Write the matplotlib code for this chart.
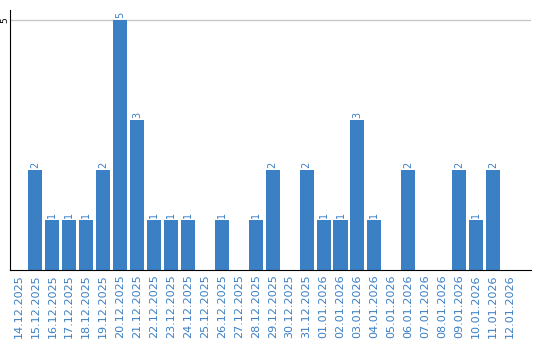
import matplotlib
matplotlib.use('Agg')
import matplotlib.pyplot as plt

dates = ['14.12.2025', '15.12.2025', '16.12.2025', '17.12.2025', '18.12.2025',
         '19.12.2025', '20.12.2025', '21.12.2025', '22.12.2025', '23.12.2025',
         '24.12.2025', '25.12.2025', '26.12.2025', '27.12.2025', '28.12.2025',
         '29.12.2025', '30.12.2025', '31.12.2025', '01.01.2026', '02.01.2026',
         '03.01.2026', '04.01.2026', '05.01.2026', '06.01.2026', '07.01.2026',
         '08.01.2026', '09.01.2026', '10.01.2026', '11.01.2026', '12.01.2026']
counts = [0, 2, 1, 1, 1, 2, 5, 3, 1, 1,
          1, 0, 1, 0, 1, 2, 0, 2, 1, 1,
          3, 1, 0, 2, 0, 0, 2, 1, 2, 0]

blue = '#3b7fc4'

fig = plt.figure(figsize=(5.4, 3.4), dpi=100)
ax = fig.add_axes([10/540, 70/340, 521/540, 260/340])

x = list(range(len(dates)))
bars = ax.bar(x, counts, width=0.83, color=blue, zorder=2)

# value labels above bars (skip zeros)
for xi, v in zip(x, counts):
    if v > 0:
        ax.text(xi, v + 0.04, str(v), rotation=90, ha='center', va='bottom',
                fontsize=7, color=blue)

ax.set_xlim(-0.5, 30.24)
ax.set_ylim(0, 5.2)
ax.set_xticks(x)
ax.set_xticklabels(dates, rotation=90, fontsize=8, color=blue)
ax.set_yticks([5])
ax.set_yticklabels(['5'], rotation=90, fontsize=6.5, va='center')
ax.tick_params(axis='x', length=0, pad=3)
ax.tick_params(axis='y', length=0, pad=0.5)
ax.grid(axis='y', color='#c8c8c8', linewidth=1, zorder=0)

ax.spines['top'].set_visible(False)
ax.spines['right'].set_visible(False)
ax.spines['left'].set_color('black')
ax.spines['bottom'].set_color('black')

fig.savefig('out.png', dpi=100)
